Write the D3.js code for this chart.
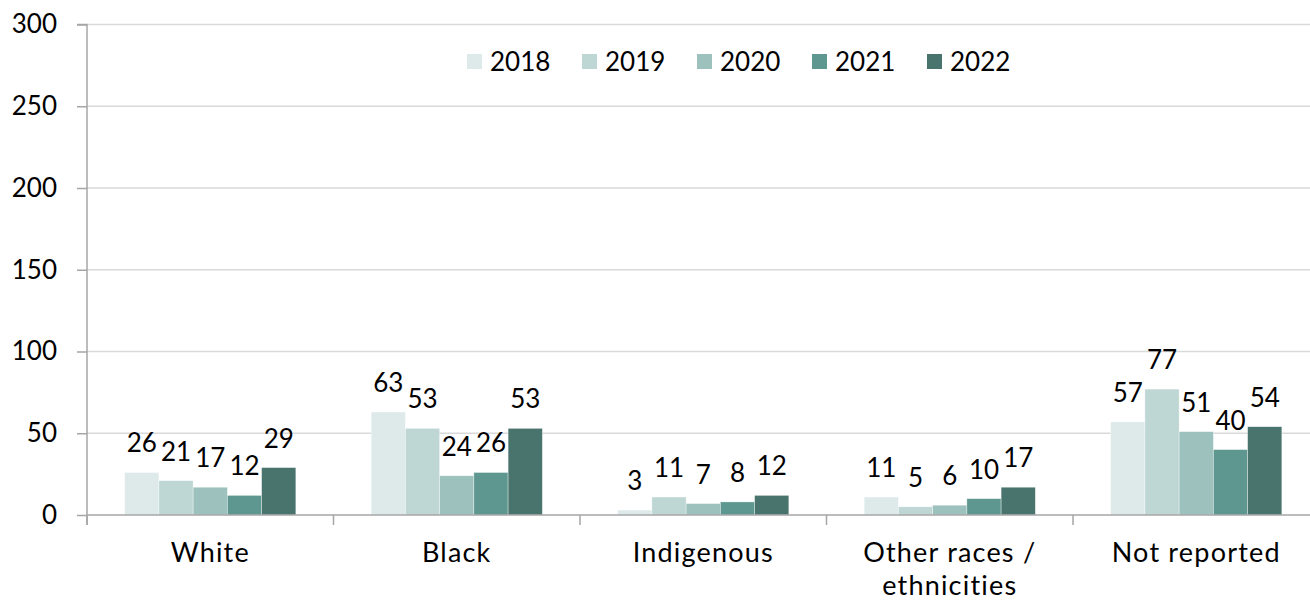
<!DOCTYPE html>
<html>
<head>
<meta charset="utf-8">
<script src="https://cdn.jsdelivr.net/npm/d3@7"></script>
<style>
  html, body { margin: 0; padding: 0; background: #fff; }
  svg { display: block; font-family: Lato, "Open Sans", sans-serif; }
</style>
</head>
<body>
<svg id="chart" width="1310" height="603"></svg>
<script>
// Categories (two-line labels split on "\n")
const categories = ["White", "Black", "Indigenous", "Other races /\nethnicities", "Not reported"];
const years = ["2018", "2019", "2020", "2021", "2022"];
const colors = ["#deeaea", "#bed7d4", "#9dc2be", "#5d978f", "#49736d"];

// Counts per year, one entry per category
const v2018 = [26, 63, 3, 11, 57];
const v2019 = [21, 53, 11, 5, 77];
const v2020 = [17, 24, 7, 6, 51];
const v2021 = [12, 26, 8, 10, 40];
const v2022 = [29, 53, 12, 17, 54];
const series = [v2018, v2019, v2020, v2021, v2022];

const yTicks = [0, 50, 100, 150, 200, 250, 300];

const svg = d3.select("#chart");
const plotLeft = 87, plotRight = 1319.5, plotTop = 24.5, plotBottom = 515;

const x = d3.scaleBand().domain(categories).range([plotLeft, plotRight]).paddingInner(0).paddingOuter(0);
const inner = d3.scaleBand().domain(years).range([0, x.bandwidth()]).paddingInner(0).paddingOuter(1.1);
const y = d3.scaleLinear().domain([0, 300]).range([plotBottom, plotTop]);

// Gridlines
svg.append("g").selectAll("line").data(yTicks.filter(d => d > 0)).join("line")
  .attr("x1", plotLeft).attr("x2", 1310)
  .attr("y1", d => y(d)).attr("y2", d => y(d))
  .attr("stroke", "#d9d9d9").attr("stroke-width", 1.5);

// Y axis
const yAxis = svg.append("g").attr("transform", `translate(${plotLeft},0)`)
  .call(d3.axisLeft(y).tickValues(yTicks).tickSize(10).tickPadding(20));
yAxis.select(".domain").attr("stroke", "#a6a6a6").attr("stroke-width", 1.5)
  .attr("d", `M-10,${plotTop}H0V${plotBottom + 10}`);
yAxis.selectAll(".tick line").attr("stroke", "#a6a6a6").attr("stroke-width", 1.5);
yAxis.selectAll(".tick text").attr("font-size", 26).attr("fill", "#000").attr("font-family", "Lato, sans-serif");

// Bars and value labels
const groups = svg.append("g").selectAll("g").data(categories).join("g")
  .attr("transform", d => `translate(${x(d)},0)`);

groups.each(function(cat, ci) {
  const g = d3.select(this);
  years.forEach((yr, si) => {
    const val = series[si][ci];
    g.append("rect")
      .attr("x", inner(yr))
      .attr("y", y(val))
      .attr("width", inner.bandwidth())
      .attr("height", y(0) - y(val))
      .attr("fill", colors[si])
      .attr("stroke", "#ffffff").attr("stroke-width", 0.6).attr("stroke-opacity", 0.6);
    g.append("text")
      .attr("x", inner(yr) + inner.bandwidth() / 2)
      .attr("y", y(val) - 20)
      .attr("text-anchor", "middle")
      .attr("font-size", 26)
      .attr("fill", "#000")
      .text(val);
  });
});

// X axis line and boundary ticks
svg.append("line").attr("x1", plotLeft).attr("x2", 1310).attr("y1", plotBottom).attr("y2", plotBottom)
  .attr("stroke", "#a6a6a6").attr("stroke-width", 1.5);
const bounds = categories.map(c => x(c)).concat([plotRight]);
svg.append("g").selectAll("line").data(bounds).join("line")
  .attr("x1", d => d).attr("x2", d => d)
  .attr("y1", plotBottom).attr("y2", plotBottom + 10)
  .attr("stroke", "#a6a6a6").attr("stroke-width", 1.5);

// Category labels
svg.append("g").selectAll("text").data(categories).join("text")
  .attr("y", 562)
  .attr("text-anchor", "middle")
  .attr("font-size", 27)
  .attr("letter-spacing", 1.2)
  .attr("fill", "#000")
  .each(function(d) {
    const lines = d.split("\n");
    d3.select(this).selectAll("tspan").data(lines).join("tspan")
      .attr("x", x(d) + x.bandwidth() / 2)
      .attr("dy", (l, i) => i === 0 ? 0 : 33)
      .text(l => l);
  });

// Legend
const legend = svg.append("g").attr("transform", "translate(467,0)");
years.forEach((yr, i) => {
  const lg = legend.append("g").attr("transform", `translate(${i * 115},0)`);
  lg.append("rect").attr("x", 0).attr("y", 54).attr("width", 15).attr("height", 15).attr("fill", colors[i]);
  lg.append("text").attr("x", 23).attr("y", 71).attr("font-size", 26).attr("fill", "#000").text(yr);
});
</script>
</body>
</html>
